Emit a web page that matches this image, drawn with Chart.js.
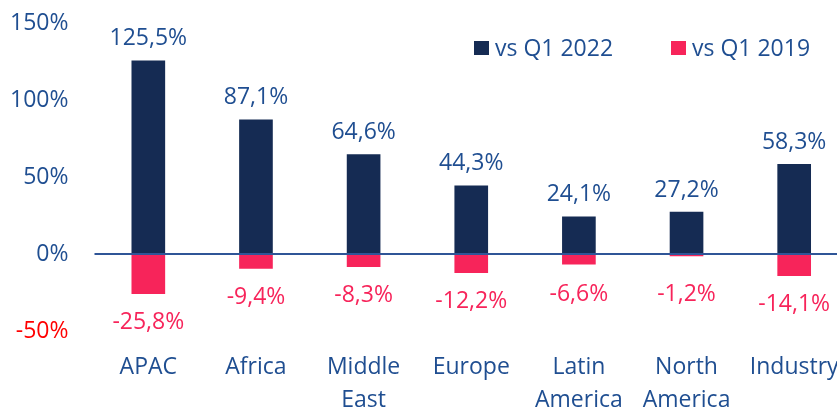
<!DOCTYPE html>
<html>
<head>
<meta charset="utf-8">
<script src="https://cdn.jsdelivr.net/npm/chart.js@4"></script>
<style>
  body { margin: 0; overflow: hidden; background: #fff; }
  canvas { position: absolute; left: 0; top: 0; }
</style>
</head>
<body>
<canvas id="growth" width="848" height="408"></canvas>
<script>
// regions on the x axis
const regions = ['APAC', 'Africa', ['Middle', 'East'], 'Europe', ['Latin', 'America'], ['North', 'America'], 'Industry']

// growth in %
const vsQ1_2022 = [125.5, 87.1, 64.6, 44.3, 24.1, 27.2, 58.3]
const vsQ1_2019 = [-25.8, -9.4, -8.3, -12.2, -6.6, -1.2, -14.1]

const seriesNames = ['vs Q1 2022', 'vs Q1 2019']
const yTicks = [-50, 0, 50, 100, 150]

const FONT = '"Open Sans", sans-serif'
const FS = 23
const BLUE_TEXT = '#1f4e91'
const NAVY = '#152b53'
const PINK = '#f7245a'

function pct(v) {
  return v.toFixed(1).replace('.', ',') + '%'
}

// value labels above / below each bar
const valueLabels = {
  id: 'valueLabels',
  afterDatasetsDraw(chart) {
    const ctx = chart.ctx
    const zeroY = chart.scales.y.getPixelForValue(0)
    ctx.save()
    ctx.font = FS + 'px ' + FONT
    ctx.textAlign = 'center'
    ctx.textBaseline = 'middle'
    chart.data.datasets.forEach((ds, i) => {
      chart.getDatasetMeta(i).data.forEach((bar, j) => {
        const v = ds.data[j]
        if (v >= 0) {
          ctx.fillStyle = BLUE_TEXT
          ctx.fillText(pct(v), bar.x, bar.y - 22)
        } else {
          ctx.fillStyle = PINK
          ctx.fillText(pct(v), bar.x, Math.max(bar.y + 29, zeroY + 40))
        }
      })
    })
    ctx.restore()
  }
}

// zero line + legend
const extras = {
  id: 'extras',
  afterDatasetsDraw(chart) {
    const ctx = chart.ctx
    const area = chart.chartArea
    const zeroY = chart.scales.y.getPixelForValue(0)
    ctx.save()
    ctx.strokeStyle = '#2f5597'
    ctx.lineWidth = 2
    ctx.beginPath()
    ctx.moveTo(area.left, zeroY)
    ctx.lineTo(area.right, zeroY)
    ctx.stroke()

    const legendX = [474, 671]
    ctx.font = FS + 'px ' + FONT
    ctx.textBaseline = 'middle'
    ctx.textAlign = 'left'
    chart.data.datasets.forEach((ds, i) => {
      ctx.fillStyle = ds.backgroundColor
      ctx.fillRect(legendX[i], 41, 15, 14)
      ctx.fillStyle = BLUE_TEXT
      ctx.fillText(ds.label, legendX[i] + 21, 49)
    })
    ctx.restore()
  }
}

const data = {
  labels: regions,
  datasets: [{
    label: seriesNames[0],
    backgroundColor: NAVY,
    data: vsQ1_2022,
  }, {
    label: seriesNames[1],
    backgroundColor: PINK,
    data: vsQ1_2019,
  }]
}

const config = {
  type: 'bar',
  data: data,
  options: {
    responsive: false,
    animation: false,
    layout: { padding: { top: 23, right: 0, left: 0, bottom: 0 } },
    datasets: { bar: { barThickness: 33 } },
    plugins: { legend: { display: false }, tooltip: { enabled: false } },
    scales: {
      x: {
        stacked: true,
        grid: { display: false, drawTicks: false },
        border: { display: false },
        ticks: {
          color: BLUE_TEXT,
          font: { family: FONT, size: FS, lineHeight: 1.43 },
          padding: 20,
          maxRotation: 0,
          autoSkip: false
        },
        afterFit(scale) {
          scale.height = 77
          scale.paddingLeft = 0
          scale.paddingRight = 0
        }
      },
      y: {
        stacked: true,
        min: -50,
        max: 150,
        afterBuildTicks(scale) { scale.ticks = yTicks.map(v => ({ value: v })) },
        grid: { display: false, drawTicks: false },
        border: { display: false },
        ticks: {
          color: c => c.tick.value < 0 ? '#ff0000' : BLUE_TEXT,
          font: { family: FONT, size: FS },
          padding: 26,
          callback: v => v + '%'
        },
        afterFit(scale) {
          scale.width = 94.5
          scale.paddingTop = 0
          scale.paddingBottom = 0
        }
      }
    }
  },
  plugins: [valueLabels, extras]
}

const myChart = new Chart(document.getElementById('growth'), config)
</script>
</body>
</html>
